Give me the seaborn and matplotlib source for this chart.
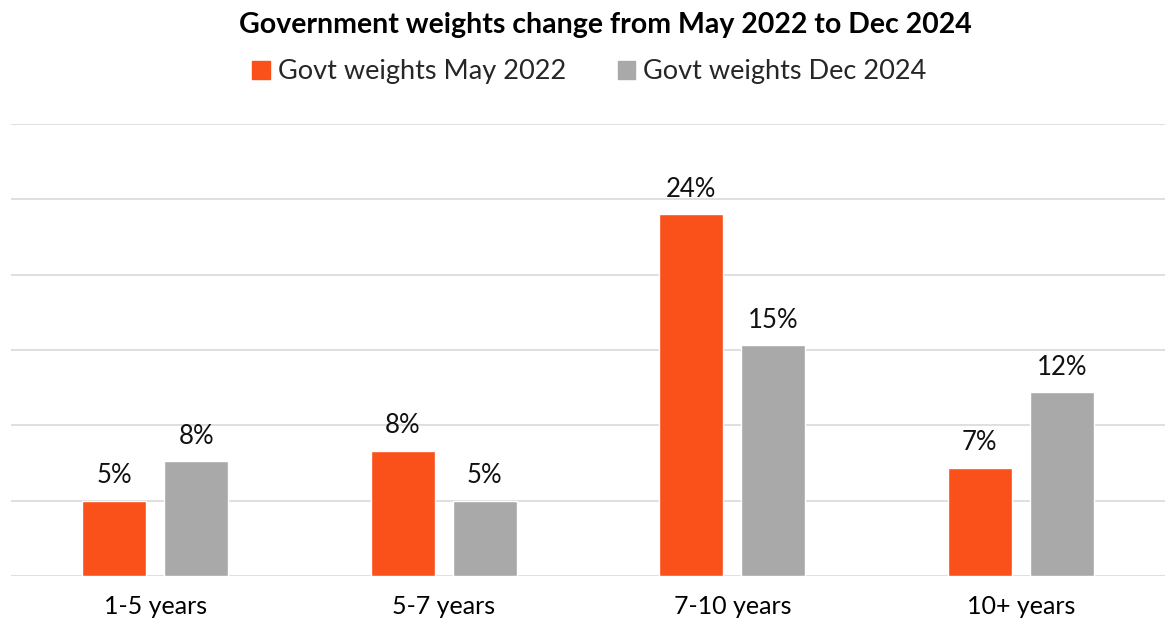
import matplotlib
matplotlib.use("Agg")
import matplotlib.pyplot as plt
import seaborn as sns
import pandas as pd

categories = ["1-5 years", "5-7 years", "7-10 years", "10+ years"]
series_names = ["Govt weights May 2022", "Govt weights Dec 2024"]
may_2022 = [5.0, 8.3, 24.0, 7.2]
dec_2024 = [7.6, 5.0, 15.3, 12.2]
y_ticks = [0, 5, 10, 15, 20, 25, 30]

df = pd.DataFrame({
    "Maturity": categories * 2,
    "Series": [series_names[0]] * 4 + [series_names[1]] * 4,
    "Weight": may_2022 + dec_2024,
})

sns.set_theme(style="white")
plt.rcParams["font.family"] = ["Lato", "DejaVu Sans"]

fig = plt.figure(figsize=(11.65, 6.21), dpi=100)
ax = fig.add_axes([11 / 1165, 45 / 621, 1 - 11 / 1165, (576 - 124) / 621])

palette = {series_names[0]: "#FA5019", series_names[1]: "#A9A9A9"}
sns.barplot(data=df, x="Maturity", y="Weight", hue="Series", order=categories,
            hue_order=series_names, palette=palette, width=0.57, gap=0.22,
            saturation=1, ax=ax, legend=False, zorder=3)

ax.set_ylim(0, 30)
ax.set_xlim(-0.5, 3.5)
ax.set_yticks(y_ticks)
ax.yaxis.grid(True, color="#D9D9D9", linewidth=1.2, zorder=0)
ax.set_axisbelow(True)
for s in ax.spines.values():
    s.set_visible(False)
ax.tick_params(axis="y", left=False, labelleft=False)
ax.tick_params(axis="x", bottom=False, labelsize=18, colors="#000000", pad=8)
ax.set_xlabel("")
ax.set_ylabel("")

for cont in ax.containers:
    ax.bar_label(cont, labels=[f"{v:.0f}%" for v in cont.datavalues],
                 padding=9, fontsize=18.5, color="#111111")

fig.text(0.52, 1 - 25 / 621, "Government weights change from May 2022 to Dec 2024",
         ha="center", va="center", fontsize=20.5, fontweight="bold", color="#000000")

handles = [plt.Rectangle((0, 0), 1, 1, color=palette[n]) for n in series_names]
fig.legend(handles, series_names, loc="center", bbox_to_anchor=(0.506, 1 - 72 / 621),
           ncol=2, frameon=False, fontsize=19.5, handlelength=0.65, handleheight=0.65,
           handletextpad=0.3, columnspacing=1.9)

fig.savefig("out.png", dpi=100)
